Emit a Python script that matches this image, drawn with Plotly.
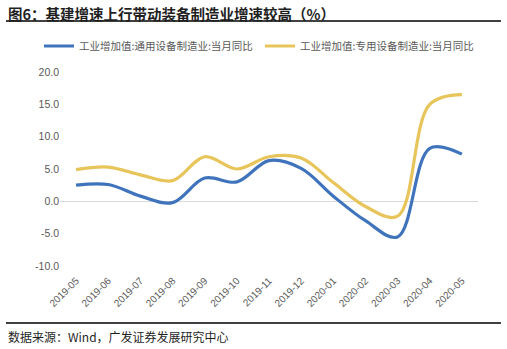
import plotly.graph_objects as go

months = ["2019-05", "2019-06", "2019-07", "2019-08", "2019-09", "2019-10", "2019-11",
          "2019-12", "2020-01", "2020-02", "2020-03", "2020-04", "2020-05"]
general_equip = [2.5, 2.6, 0.8, -0.2, 3.6, 3.0, 6.3, 5.1, 0.8, -3.0, -5.5, 8.2, 7.3]
special_equip = [4.9, 5.3, 4.1, 3.2, 6.9, 5.0, 6.9, 6.7, 2.9, -0.8, -2.3, 15.0, 16.5]
name_general = "工业增加值:通用设备制造业:当月同比"
name_special = "工业增加值:专用设备制造业:当月同比"
y_ticks = [-10, -5, 0, 5, 10, 15, 20]

W, H = 507, 349
ML, MR, MT, MB = 60, 29, 72, 83
plot_w = W - ML - MR
plot_h = H - MT - MB


def px_x(p):
    return (p - ML) / plot_w


def px_y(p):
    return (H - MB - p) / plot_h


fig = go.Figure()
fig.add_trace(go.Scatter(x=months, y=general_equip, name=name_general, mode="lines",
                         legend="legend",
                         line=dict(color="#3F74BD", width=3.2, shape="spline", smoothing=1.0)))
fig.add_trace(go.Scatter(x=months, y=special_equip, name=name_special, mode="lines",
                         legend="legend2",
                         line=dict(color="#E8C55A", width=3.2, shape="spline", smoothing=1.0)))

legend_font = dict(family="Noto Sans CJK SC", size=10.5, color="#595959")
fig.update_layout(
    width=W, height=H,
    margin=dict(l=ML, r=MR, t=MT, b=MB, autoexpand=False),
    paper_bgcolor="white", plot_bgcolor="white",
    showlegend=True,
    legend=dict(orientation="h", x=px_x(39), xanchor="left", y=px_y(46), yref="paper",
                yanchor="middle", font=legend_font, itemwidth=30, bgcolor="rgba(0,0,0,0)"),
    legend2=dict(orientation="h", x=px_x(260), xanchor="left", y=px_y(46), yref="paper",
                 yanchor="middle", font=legend_font, itemwidth=30, bgcolor="rgba(0,0,0,0)"),
    xaxis=dict(type="category", range=[-0.5, 12.5], tickangle=-45, showgrid=False,
               showline=False, ticks="outside", ticklen=4, tickcolor="rgba(0,0,0,0)",
               tickfont=dict(family="Liberation Sans", size=10, color="#595959")),
    yaxis=dict(range=[-10, 20], tickvals=y_ticks, ticktext=[f"{v:.1f}" for v in y_ticks],
               showgrid=False, zeroline=True, zerolinecolor="#D9D9D9", zerolinewidth=1,
               ticks="", tickfont=dict(family="Liberation Sans", size=10.5, color="#595959")),
    shapes=[
        dict(type="line", xref="paper", yref="paper", x0=px_x(6), x1=px_x(501),
             y0=px_y(21), y1=px_y(21), line=dict(color="#000000", width=1.5)),
        dict(type="line", xref="paper", yref="paper", x0=px_x(6), x1=px_x(501),
             y0=px_y(323), y1=px_y(323), line=dict(color="#000000", width=1.5)),
    ],
    annotations=[
        dict(text="<b>图6：基建增速上行带动装备制造业增速较高（%）</b>", xref="paper", yref="paper",
             x=px_x(6), y=px_y(1), xanchor="left", yanchor="top", showarrow=False,
             font=dict(family="Noto Sans CJK SC", size=14.5, color="#1F1F1F")),
        dict(text="数据来源：Wind，广发证券发展研究中心", xref="paper", yref="paper",
             x=px_x(6), y=px_y(326), xanchor="left", yanchor="top", showarrow=False,
             font=dict(family="Noto Sans CJK SC", size=12, color="#1F1F1F")),
    ],
)

fig.write_html("out.html")
